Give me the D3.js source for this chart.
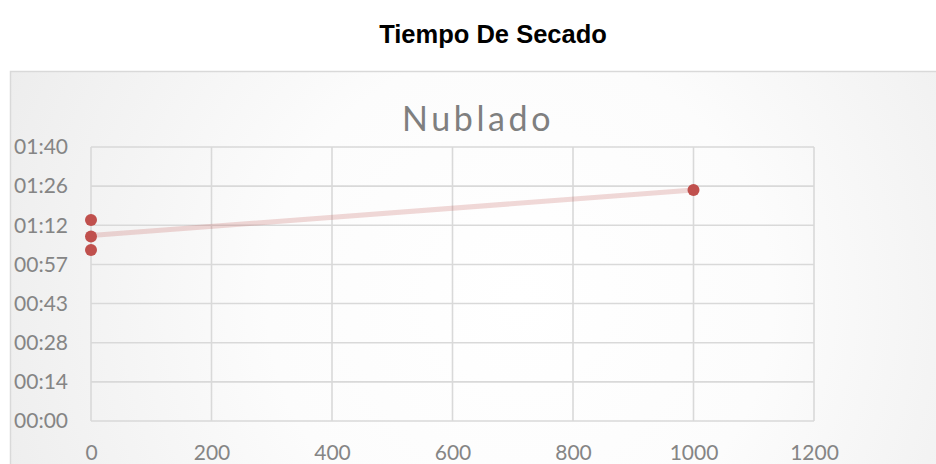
<!DOCTYPE html>
<html><head><meta charset="utf-8">
<script src="https://cdn.jsdelivr.net/npm/d3@7"></script>
<style>html,body{margin:0;padding:0;background:#fff;}svg{display:block;}</style>
</head><body>
<svg id="c" width="936" height="464"></svg>
<script>
// Data (seconds)
const xValues = [0, 0, 0, 1000];
const yValues = [73.4, 67.3, 62.4, 84.3];
const xTicks = [0, 200, 400, 600, 800, 1000, 1200];
const yTickLabels = ["00:00","00:14","00:28","00:43","00:57","01:12","01:26","01:40"];
const yMax = 100;
const title = "Tiempo De Secado";
const chartTitle = "Nublado";

const svg = d3.select("#c");
const defs = svg.append("defs");
const g = defs.append("radialGradient").attr("id","bg").attr("gradientUnits","userSpaceOnUse")
  .attr("cx",520).attr("cy",300).attr("r",560);
g.append("stop").attr("offset","0").attr("stop-color","#ffffff");
g.append("stop").attr("offset","0.45").attr("stop-color","#fcfcfc");
g.append("stop").attr("offset","1").attr("stop-color","#ededed");

svg.append("text").attr("x",493).attr("y",43).attr("text-anchor","middle")
  .attr("font-family","Liberation Sans, Arial, sans-serif").attr("font-weight","bold")
  .attr("font-size",25.5).attr("fill","#000").text(title);

svg.append("rect").attr("x",10.5).attr("y",71.5).attr("width",940).attr("height",420)
  .attr("fill","url(#bg)").attr("stroke","#d9d9d9").attr("stroke-width",1.5);

svg.append("text").attr("x",478).attr("y",131).attr("text-anchor","middle")
  .attr("font-family","Lato, sans-serif").attr("font-size",34).attr("letter-spacing",3.6)
  .attr("fill","#7f7f7f").text(chartTitle);

const L=91, R=814, T=147, B=421;
const x = d3.scaleLinear().domain([0,1200]).range([L,R]);
const y = d3.scaleLinear().domain([0,yMax]).range([B,T]);
const yTickVals = yTickLabels.map((d,i)=>i*yMax/(yTickLabels.length-1));

// grid
const grid = svg.append("g").attr("stroke","#d9d9d9").attr("stroke-width",1.6);
grid.selectAll("line.h").data(yTickVals).join("line")
  .attr("x1",L).attr("x2",R).attr("y1",d=>y(d)).attr("y2",d=>y(d));
grid.selectAll("line.v").data(xTicks).join("line")
  .attr("x1",d=>x(d)).attr("x2",d=>x(d)).attr("y1",T).attr("y2",B);

// axes labels via d3 axes
const yAxis = d3.axisLeft(y).tickValues(yTickVals).tickFormat((d,i)=>yTickLabels[i]).tickSize(0).tickPadding(23);
const ya = svg.append("g").attr("transform",`translate(${L},0)`).call(yAxis);
const xAxis = d3.axisBottom(x).tickValues(xTicks).tickFormat(d3.format("d")).tickSize(0).tickPadding(0);
const xa = svg.append("g").attr("transform",`translate(0,${B})`).call(xAxis);
[ya,xa].forEach(a=>{
  a.select(".domain").remove();
  a.selectAll("text").attr("font-family","Lato, sans-serif").attr("font-size",21).attr("fill","#858585");
});
xa.selectAll("text").attr("dy",null).attr("y",39);

// trendline (linear least squares)
const mx=d3.mean(xValues), my=d3.mean(yValues);
const slope=d3.sum(xValues.map((v,i)=>(v-mx)*(yValues[i]-my)))/d3.sum(xValues.map(v=>(v-mx)*(v-mx)));
const icpt=my-slope*mx;
const xr=d3.extent(xValues);
svg.append("line").attr("x1",x(xr[0])).attr("y1",y(icpt+slope*xr[0]))
  .attr("x2",x(xr[1])).attr("y2",y(icpt+slope*xr[1]))
  .attr("stroke","#c0504d").attr("stroke-opacity",0.22).attr("stroke-width",5);

svg.append("g").selectAll("circle").data(xValues).join("circle")
  .attr("cx",d=>x(d)).attr("cy",(d,i)=>y(yValues[i])).attr("r",6).attr("fill","#c0504d");
</script>
</body></html>
